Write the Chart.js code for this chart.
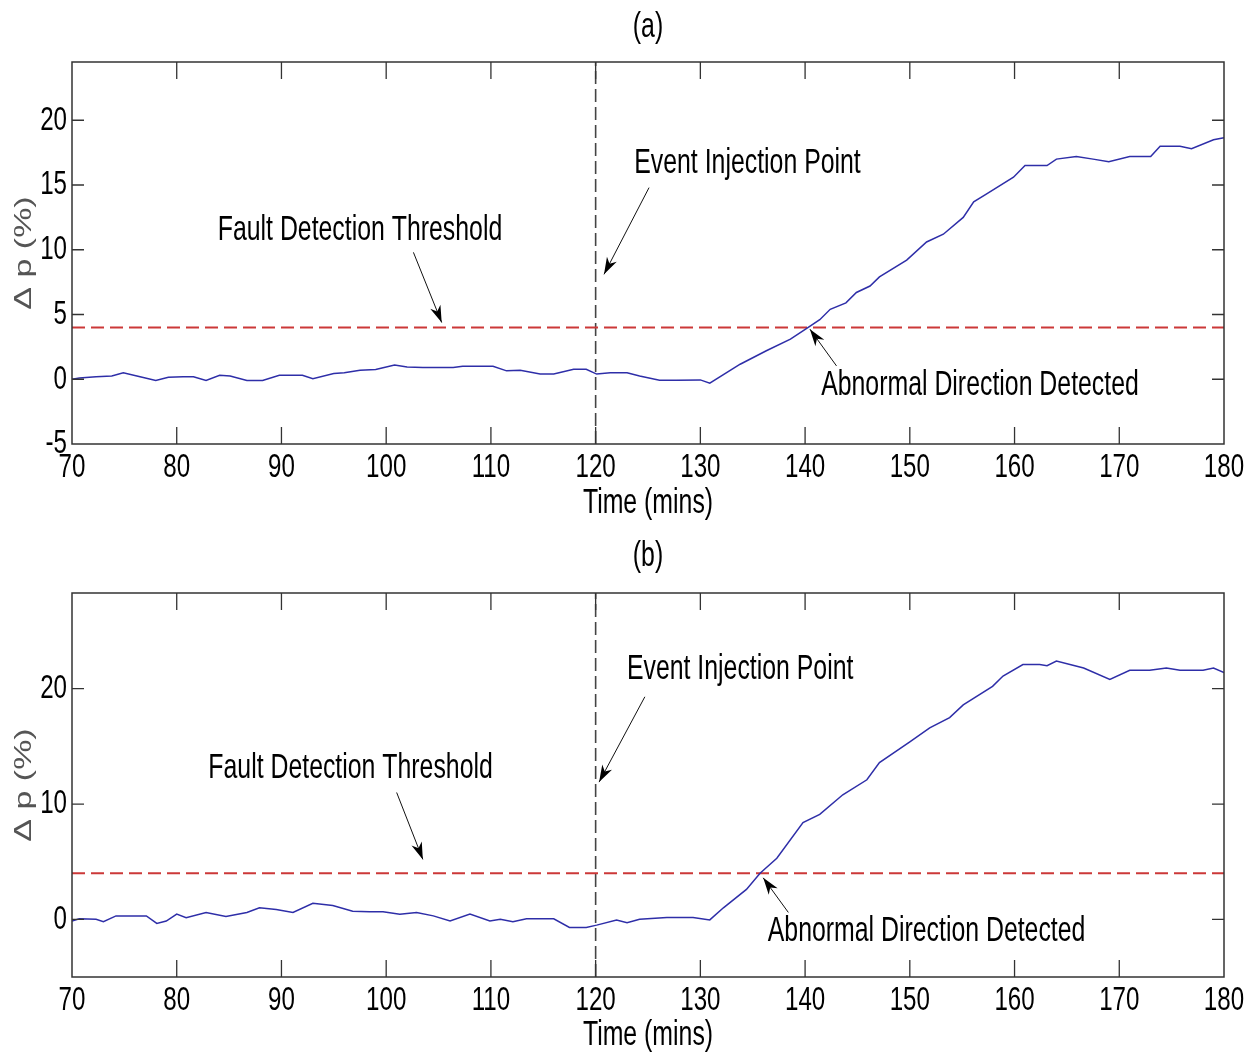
<!DOCTYPE html>
<html><head><meta charset="utf-8">
<script src="https://cdn.jsdelivr.net/npm/chart.js@4.4.1/dist/chart.umd.min.js"></script>
<style>html,body{margin:0;padding:0;background:#fff;} canvas{display:block;}</style>
</head><body>
<canvas id="ca" width="1257" height="530"></canvas>
<canvas id="cb" width="1257" height="529"></canvas>
<script>
// ---------- data ----------
const xTickLabels = [70, 80, 90, 100, 110, 120, 130, 140, 150, 160, 170, 180];
const yTickLabelsA = [-5, 0, 5, 10, 15, 20];
const yTickLabelsB = [0, 10, 20];

const timeA = [70, 70.7, 72.3, 73.8, 74.9, 76.5, 78.0, 79.2, 80.6, 81.6, 82.8, 84.1, 85.1, 86.7, 88.2, 89.8, 92.0, 93.0, 95.0, 96.0,
  97.5, 99.0, 100.8, 102.0, 103.5, 106.4, 107.3, 110.2, 111.5, 112.8, 114.7, 116.0, 117.9, 119.1, 120.1, 121.4, 123.0, 124.2, 126.1, 127.7,
  130.0, 130.9, 133.8, 136.3, 138.6, 140.3, 141.4, 142.4, 143.9, 144.9, 146.2, 147.1, 149.7, 151.6, 153.2, 155.1, 156.1, 157.3, 159.9, 161.0,
  163.1, 164.0, 165.9, 167.5, 169.0, 171.0, 173.0, 173.9, 175.8, 176.9, 179.0, 180.0];
const deltaPA = [0.0, 0.1, 0.2, 0.25, 0.5, 0.2, -0.1, 0.15, 0.2, 0.2, -0.1, 0.3, 0.25, -0.1, -0.1, 0.3, 0.3, 0.05, 0.45, 0.5,
  0.7, 0.75, 1.1, 0.95, 0.9, 0.9, 1.0, 1.0, 0.65, 0.7, 0.4, 0.4, 0.77, 0.77, 0.4, 0.5, 0.5, 0.25, -0.08, -0.08,
  -0.05, -0.3, 1.16, 2.2, 3.1, 4.0, 4.6, 5.4, 5.9, 6.7, 7.2, 7.9, 9.2, 10.6, 11.2, 12.5, 13.7, 14.3, 15.6, 16.5,
  16.5, 17.0, 17.2, 17.0, 16.8, 17.2, 17.2, 18.0, 18.0, 17.8, 18.5, 18.65];

const timeB = [70, 70.7, 72.3, 73.0, 74.2, 77.1, 78.1, 79.0, 80.0, 80.9, 82.8, 84.7, 86.7, 87.9, 89.5, 91.1, 93.0, 94.9, 96.8, 98.4,
  99.7, 101.3, 102.9, 104.5, 106.1, 108.0, 109.9, 110.9, 112.1, 113.4, 116.0, 117.5, 119.1, 120.1, 122.0, 123.0, 124.2, 126.8, 129.3, 130.9,
  132.2, 134.4, 135.7, 137.3, 139.8, 141.4, 143.6, 145.9, 147.1, 150.0, 151.9, 153.8, 155.1, 157.9, 158.9, 160.8, 162.4, 163.1, 164.0, 166.6,
  169.1, 171.0, 172.9, 174.5, 175.8, 178.0, 179.0, 180.0];
const deltaPB = [-0.15, 0.05, 0.0, -0.2, 0.3, 0.3, -0.35, -0.15, 0.45, 0.15, 0.6, 0.25, 0.6, 1.0, 0.85, 0.6, 1.4, 1.2, 0.7, 0.65,
  0.65, 0.45, 0.6, 0.3, -0.15, 0.45, -0.15, 0.0, -0.2, 0.05, 0.05, -0.7, -0.7, -0.5, -0.05, -0.3, 0.0, 0.15, 0.15, -0.05,
  1.0, 2.6, 4.0, 5.3, 8.4, 9.1, 10.8, 12.1, 13.6, 15.4, 16.6, 17.5, 18.6, 20.2, 21.1, 22.1, 22.1, 22.0, 22.4, 21.8,
  20.8, 21.6, 21.6, 21.8, 21.6, 21.6, 21.8, 21.4];

const thresholdValue = 4;
const eventTime = 120;
const xRange = [70, 180];
const yRangeA = [-5, 24.5];
const yRangeB = [-5, 28.3];

// annotations (data coordinates): text centre, arrow tail, arrow tip
const notesA = [
  { text: 'Fault Detection Threshold', tx: 97.5, ty: 11.5, x0: 102.6, y0: 9.8, x1: 105.3, y1: 4.38 },
  { text: 'Event Injection Point', tx: 134.5, ty: 16.7, x0: 125.1, y0: 14.8, x1: 120.8, y1: 8.1 },
  { text: 'Abnormal Direction Detected', tx: 156.7, ty: -0.44, x0: 143.0, y0: 1.03, x1: 140.46, y1: 3.87 }
];
const notesB = [
  { text: 'Fault Detection Threshold', tx: 96.6, ty: 13.1, x0: 101.0, y0: 11.0, x1: 103.5, y1: 5.2 },
  { text: 'Event Injection Point', tx: 133.8, ty: 21.65, x0: 124.7, y0: 19.3, x1: 120.33, y1: 11.9 },
  { text: 'Abnormal Direction Detected', tx: 151.6, ty: -1.04, x0: 138.4, y0: 0.6, x1: 136.0, y1: 3.6 }
];

// ---------- styling ----------
const FONT = "'Liberation Sans', Arial, Helvetica, sans-serif";
const SQUISH = 0.71;

function squishText(ctx, s) {
  const orig = ctx.fillText.bind(ctx);
  ctx.fillText = function (text, x, y, maxWidth) {
    const m = ctx.getTransform();
    const p = m.transformPoint(new DOMPoint(x, y));
    ctx.save();
    ctx.setTransform(new DOMMatrix().translate(p.x, p.y).scale(s, 1).translate(-p.x, -p.y).multiply(m));
    if (maxWidth !== undefined && maxWidth !== null) orig(text, x, y, maxWidth / s); else orig(text, x, y);
    ctx.restore();
  };
}

const framePlugin = {
  id: 'frame',
  afterDatasetsDraw(chart) {
    const { ctx, chartArea: a, scales: { x, y } } = chart;
    ctx.save();
    ctx.strokeStyle = '#333';
    ctx.lineWidth = 1.5;
    ctx.strokeRect(a.left, a.top, a.right - a.left, a.bottom - a.top);
    ctx.lineWidth = 1.3;
    ctx.beginPath();
    x.ticks.forEach(t => {
      const px = x.getPixelForValue(t.value);
      if (px <= a.left + 1 || px >= a.right - 1) return;
      ctx.moveTo(px, a.bottom); ctx.lineTo(px, a.bottom - 17);
      ctx.moveTo(px, a.top); ctx.lineTo(px, a.top + 17);
    });
    y.ticks.forEach(t => {
      const py = y.getPixelForValue(t.value);
      if (py >= a.bottom - 1 || py <= a.top + 1) return;
      ctx.moveTo(a.left, py); ctx.lineTo(a.left + 12, py);
      ctx.moveTo(a.right, py); ctx.lineTo(a.right - 12, py);
    });
    ctx.stroke();
    ctx.restore();
  }
};

const notesPlugin = {
  id: 'notes',
  afterDraw(chart, args, opts) {
    const { ctx, scales: { x, y } } = chart;
    ctx.save();
    ctx.fillStyle = '#000';
    ctx.strokeStyle = '#111';
    ctx.font = '35px ' + FONT;
    ctx.textAlign = 'center';
    ctx.textBaseline = 'middle';
    (opts.items || []).forEach(n => {
      ctx.fillText(n.text, x.getPixelForValue(n.tx), y.getPixelForValue(n.ty));
      const x0 = x.getPixelForValue(n.x0), y0 = y.getPixelForValue(n.y0);
      const x1 = x.getPixelForValue(n.x1), y1 = y.getPixelForValue(n.y1);
      ctx.lineWidth = 1;
      ctx.beginPath(); ctx.moveTo(x0, y0); ctx.lineTo(x1, y1); ctx.stroke();
      const ang = Math.atan2(y1 - y0, x1 - x0), c = Math.cos(ang), s = Math.sin(ang);
      const L = 17, W = 5.5, N = 12;
      ctx.beginPath();
      ctx.moveTo(x1, y1);
      ctx.lineTo(x1 - L * c + W * s, y1 - L * s - W * c);
      ctx.lineTo(x1 - N * c, y1 - N * s);
      ctx.lineTo(x1 - L * c - W * s, y1 - L * s + W * c);
      ctx.closePath();
      ctx.fill();
    });
    ctx.restore();
  }
};

function pairs(xs, ys) { return xs.map((v, i) => ({ x: v, y: ys[i] })); }

function makeChart(id, cfg) {
  const canvas = document.getElementById(id);
  const ctx = canvas.getContext('2d');
  squishText(ctx, SQUISH);
  return new Chart(ctx, {
    type: 'line',
    data: {
      datasets: [
        { data: pairs(cfg.time, cfg.values), borderColor: '#2e2ea8', borderWidth: 1.5, pointRadius: 0, tension: 0 },
        { data: [{ x: xRange[0], y: thresholdValue }, { x: xRange[1], y: thresholdValue }], borderColor: '#cc3838', borderWidth: 2, borderDash: [13, 6], pointRadius: 0 },
        { data: [{ x: eventTime, y: cfg.yRange[0] }, { x: eventTime, y: cfg.yRange[1] }], borderColor: '#444', borderWidth: 1.6, borderDash: [13, 5], pointRadius: 0 }
      ]
    },
    options: {
      responsive: false, animation: false, devicePixelRatio: 1,
      layout: { padding: { left: 0, right: 33, top: 0, bottom: 0 } },
      plugins: {
        legend: { display: false }, tooltip: { enabled: false },
        title: { display: true, fullSize: false, text: cfg.title, color: '#000', font: { family: FONT, size: 35, weight: 'normal' }, padding: cfg.titlePad },
        notes: { items: cfg.notes }
      },
      scales: {
        x: {
          type: 'linear', min: xRange[0], max: xRange[1], offset: false,
          grid: { display: false, drawTicks: false }, border: { display: false },
          ticks: { color: '#000', font: { family: FONT, size: 34 }, padding: cfg.xTickPad, maxRotation: 0, autoSkip: false },
          afterBuildTicks: s => { s.ticks = xTickLabels.map(v => ({ value: v })); },
          afterFit: s => { s.height = cfg.xHeight; },
          title: { display: true, text: 'Time (mins)', color: '#000', font: { family: FONT, size: 35 }, padding: { top: 0, bottom: cfg.xTitlePad } }
        },
        y: {
          type: 'linear', min: cfg.yRange[0], max: cfg.yRange[1],
          grid: { display: false, drawTicks: false }, border: { display: false },
          ticks: { color: '#000', font: { family: FONT, size: 34 }, padding: 5, autoSkip: false },
          afterBuildTicks: s => { s.ticks = cfg.yTicks.map(v => ({ value: v })); },
          afterFit: s => { s.width = 72; },
          title: { display: true, text: 'Δ p (%)', color: '#555', font: { family: FONT, size: 34 }, padding: { top: 3.6, bottom: 0 } }
        }
      }
    },
    plugins: [framePlugin, notesPlugin]
  });
}

makeChart('ca', { time: timeA, values: deltaPA, yRange: yRangeA, yTicks: yTickLabelsA, notes: notesA, title: '(a)',
  titlePad: { top: 6, bottom: 14 }, xTickPad: 3, xHeight: 86, xTitlePad: 5.5 });
makeChart('cb', { time: timeB, values: deltaPB, yRange: yRangeB, yTicks: yTickLabelsB, notes: notesB, title: '(b)',
  titlePad: { top: 5, bottom: 16 }, xTickPad: 3.5, xHeight: 82, xTitlePad: 3 });
</script>
</body></html>
